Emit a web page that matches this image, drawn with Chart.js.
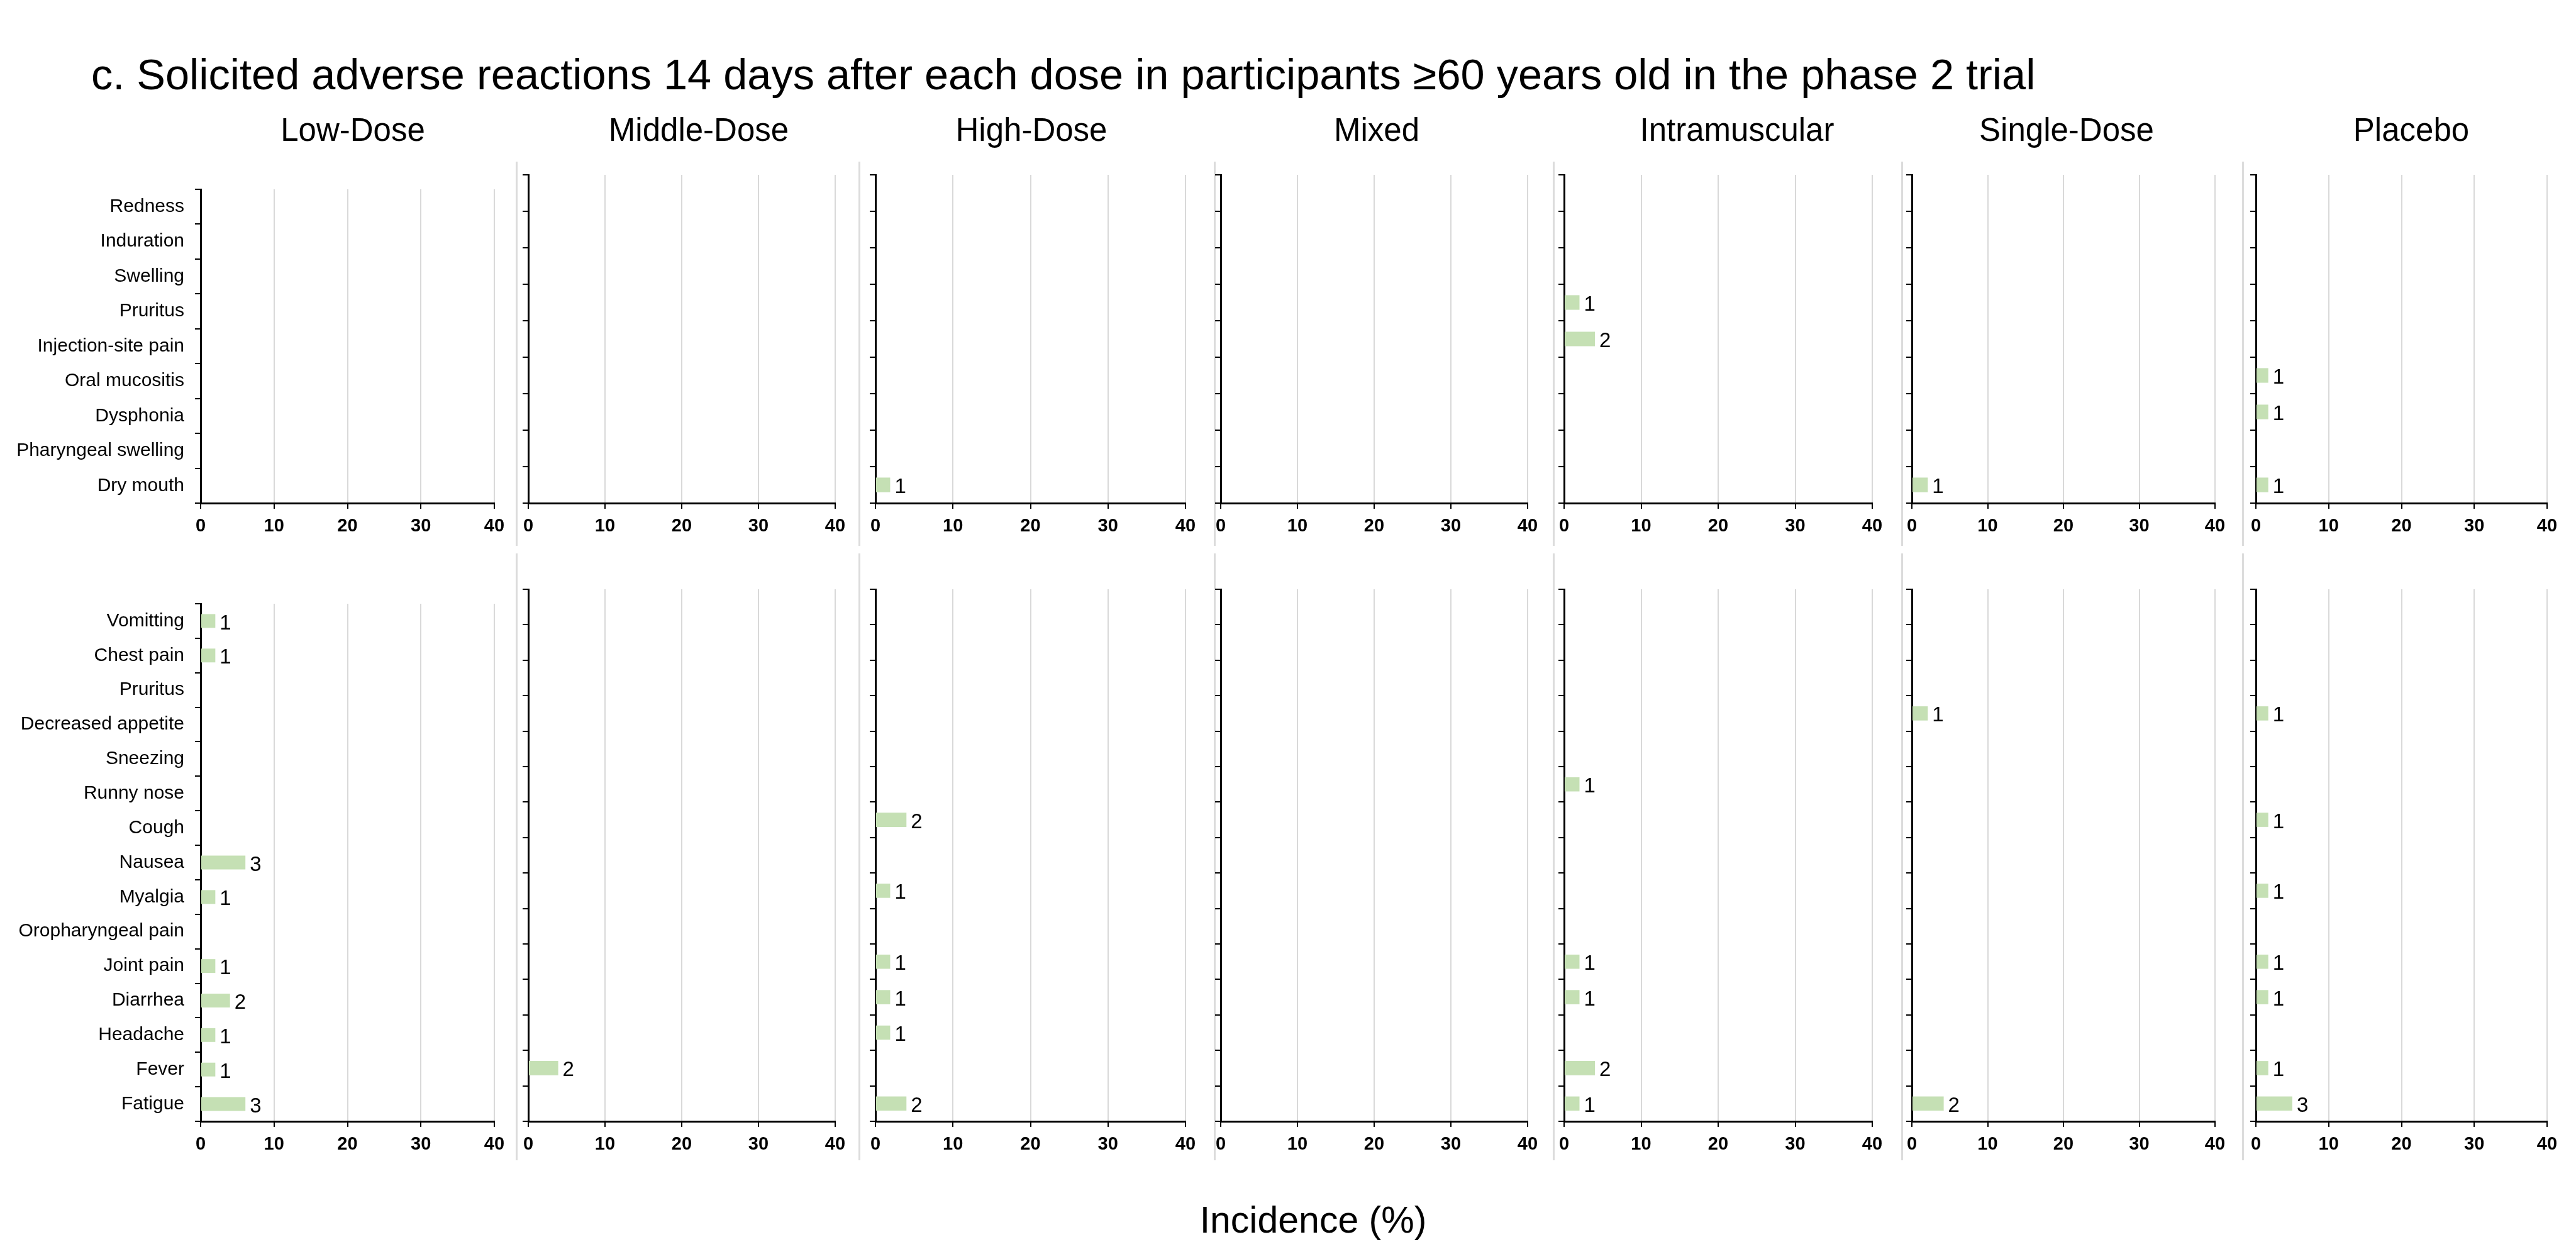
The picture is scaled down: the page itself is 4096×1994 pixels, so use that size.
<!DOCTYPE html>
<html>
<head>
<meta charset="utf-8">
<script src="https://cdn.jsdelivr.net/npm/chart.js@4.4.1/dist/chart.umd.min.js"></script>
<style>
    body { margin: 0; background: #fff; width: 4096px; height: 1994px; position: relative; overflow: hidden;
           font-family: "Liberation Sans", Arial, sans-serif; color: #000; }
    .texte { position: absolute; white-space: nowrap; transform: translate(-50%, -50%); }
    #titre { position: absolute; left: 145px; top: 118px; transform: translateY(-50%); font-size: 68.5px; white-space: nowrap; }
    .groupe { font-size: 51px; top: 206px; }
    #axeTitre { font-size: 59px; left: 2088px; top: 1940px; }
    .sep { position: absolute; width: 3px; background: #dcdcdc; }
    canvas { position: absolute; }
</style>
</head>
<body>
<div id="titre">c. Solicited adverse reactions 14 days after each dose in participants ≥60 years old in the phase 2 trial</div>
<div id="axeTitre" class="texte">Incidence (%)</div>
<script>
// Groupes et réactions
const groupes = ['Low-Dose', 'Middle-Dose', 'High-Dose', 'Mixed', 'Intramuscular', 'Single-Dose', 'Placebo'];
const reactionsHaut = ['Redness', 'Induration', 'Swelling', 'Pruritus', 'Injection-site pain',
    'Oral mucositis', 'Dysphonia', 'Pharyngeal swelling', 'Dry mouth'];
const reactionsBas = ['Vomitting', 'Chest pain', 'Pruritus', 'Decreased appetite', 'Sneezing', 'Runny nose',
    'Cough', 'Nausea', 'Myalgia', 'Oropharyngeal pain', 'Joint pain', 'Diarrhea', 'Headache', 'Fever', 'Fatigue'];
const ticksX = [0, 10, 20, 30, 40];

// Rang du haut : incidence (%)
const pctHautLow     = [];
const pctHautMiddle  = [];
const pctHautHigh    = [null, null, null, null, null, null, null, null, 1.9];
const pctHautMixed   = [];
const pctHautIM      = [null, null, null, 2.0, 4.0, null, null, null, null];
const pctHautSingle  = [null, null, null, null, null, null, null, null, 2.1];
const pctHautPlacebo = [null, null, null, null, null, 1.7, 1.7, null, 1.7];
// Rang du haut : nombre de cas
const nHautLow     = [];
const nHautMiddle  = [];
const nHautHigh    = [null, null, null, null, null, null, null, null, 1];
const nHautMixed   = [];
const nHautIM      = [null, null, null, 1, 2, null, null, null, null];
const nHautSingle  = [null, null, null, null, null, null, null, null, 1];
const nHautPlacebo = [null, null, null, null, null, 1, 1, null, 1];

// Rang du bas : incidence (%)
const pctBasLow     = [2.0, 2.0, null, null, null, null, null, 6.1, 2.0, null, 2.0, 4.0, 2.0, 2.0, 6.1];
const pctBasMiddle  = [null, null, null, null, null, null, null, null, null, null, null, null, null, 3.9, null];
const pctBasHigh    = [null, null, null, null, null, null, 4.0, null, 1.9, null, 1.9, 1.9, 1.9, null, 4.0];
const pctBasMixed   = [];
const pctBasIM      = [null, null, null, null, null, 2.0, null, null, null, null, 2.0, 2.0, null, 4.0, 2.0];
const pctBasSingle  = [null, null, null, 2.1, null, null, null, null, null, null, null, null, null, null, 4.2];
const pctBasPlacebo = [null, null, null, 1.7, null, null, 1.7, null, 1.7, null, 1.7, 1.7, null, 1.7, 5.0];
// Rang du bas : nombre de cas
const nBasLow     = [1, 1, null, null, null, null, null, 3, 1, null, 1, 2, 1, 1, 3];
const nBasMiddle  = [null, null, null, null, null, null, null, null, null, null, null, null, null, 2, null];
const nBasHigh    = [null, null, null, null, null, null, 2, null, 1, null, 1, 1, 1, null, 2];
const nBasMixed   = [];
const nBasIM      = [null, null, null, null, null, 1, null, null, null, null, 1, 1, null, 2, 1];
const nBasSingle  = [null, null, null, 1, null, null, null, null, null, null, null, null, null, null, 2];
const nBasPlacebo = [null, null, null, 1, null, null, 1, null, 1, null, 1, 1, null, 1, 3];

const pctHaut = [pctHautLow, pctHautMiddle, pctHautHigh, pctHautMixed, pctHautIM, pctHautSingle, pctHautPlacebo];
const nHaut   = [nHautLow, nHautMiddle, nHautHigh, nHautMixed, nHautIM, nHautSingle, nHautPlacebo];
const pctBas  = [pctBasLow, pctBasMiddle, pctBasHigh, pctBasMixed, pctBasIM, pctBasSingle, pctBasPlacebo];
const nBas    = [nBasLow, nBasMiddle, nBasHigh, nBasMixed, nBasIM, nBasSingle, nBasPlacebo];

// Mise en page (pixels)
const colX0  = [319, 840, 1392, 1941, 2487, 3040, 3587];
const colX40 = [786, 1328, 1885, 2429, 2977, 3522, 4050];
const titreX = [561, 1111, 1640, 2189, 2762, 3286, 3834];
const sepX   = [821, 1366, 1931, 2470, 3024, 3566];
const rangs  = [{ haut: 278, bas: 800, sepHaut: 257, sepBas: 868 },
                { haut: 937, bas: 1783, sepHaut: 880, sepBas: 1845 }];
const POLICE = '"Liberation Sans", Arial, sans-serif';
const VERT = '#c5e0b4';
const PAD_HAUT = 12, PAD_DROITE = 34, HAUT_X = 74;

// Titres des groupes et séparateurs
groupes.forEach((g, i) => {
    const d = document.createElement('div');
    d.className = 'texte groupe';
    d.style.left = titreX[i] + 'px';
    d.textContent = g;
    document.body.appendChild(d);
});
rangs.forEach(r => {
    sepX.forEach(x => {
        const s = document.createElement('div');
        s.className = 'sep';
        s.style.left = (x - 1) + 'px';
        s.style.top = r.sepHaut + 'px';
        s.style.height = (r.sepBas - r.sepHaut) + 'px';
        document.body.appendChild(s);
    });
});

function creerGraphique(col, rangIdx) {
    const r = rangs[rangIdx];
    const labels = rangIdx === 0 ? reactionsHaut : reactionsBas;
    const valeurs = (rangIdx === 0 ? pctHaut : pctBas)[col];
    const nombres = (rangIdx === 0 ? nHaut : nBas)[col];
    const largeurY = col === 0 ? colX0[0] : 30;

    const canvas = document.createElement('canvas');
    const w = largeurY + (colX40[col] - colX0[col]) + PAD_DROITE;
    const h = PAD_HAUT + (r.bas - r.haut) + HAUT_X;
    canvas.width = w; canvas.height = h;
    canvas.style.width = w + 'px'; canvas.style.height = h + 'px';
    canvas.style.left = (colX0[col] - largeurY) + 'px';
    canvas.style.top = (r.haut - PAD_HAUT) + 'px';
    document.body.appendChild(canvas);

    // étiquettes : nombre de cas au bout de la barre
    const etiquettes = {
        id: 'etiquettes',
        afterDatasetsDraw(chart) {
            const ctx = chart.ctx;
            const meta = chart.getDatasetMeta(0);
            ctx.save();
            ctx.font = '33px ' + POLICE;
            ctx.fillStyle = '#000';
            ctx.textBaseline = 'middle';
            meta.data.forEach((bar, i) => {
                if (nombres[i] == null) return;
                ctx.fillText(String(nombres[i]), bar.x + 7, bar.y + 4);
            });
            ctx.restore();
        }
    };

    new Chart(canvas, {
        type: 'bar',
        data: {
            labels: labels,
            datasets: [{
                data: valeurs,
                backgroundColor: VERT,
                borderWidth: 0,
                categoryPercentage: 1,
                barPercentage: 0.4
            }]
        },
        options: {
            indexAxis: 'y',
            responsive: false,
            animation: false,
            layout: { padding: { top: PAD_HAUT, right: PAD_DROITE, left: 0, bottom: 0 } },
            plugins: { legend: { display: false }, tooltip: { enabled: false } },
            scales: {
                x: {
                    type: 'linear',
                    min: 0,
                    max: 40,
                    afterBuildTicks: s => { s.ticks = ticksX.map(v => ({ value: v })); },
                    afterFit: s => { s.height = HAUT_X; },
                    grid: { color: '#d9d9d9', lineWidth: 2, tickColor: '#000', tickWidth: 2, tickLength: 9 },
                    border: { color: '#000', width: 3 },
                    ticks: { color: '#000', padding: 11, font: { family: POLICE, size: 29, weight: 'bold' } }
                },
                y: {
                    type: 'category',
                    afterFit: s => { s.width = largeurY; },
                    grid: { offset: true, drawOnChartArea: false, color: '#000', lineWidth: 2, tickLength: 9 },
                    border: { color: '#000', width: 3 },
                    ticks: { display: col === 0, color: '#000', padding: 17, font: { family: POLICE, size: 30 } }
                }
            }
        },
        plugins: [etiquettes]
    });
}

for (let rg = 0; rg < 2; rg++) {
    for (let c = 0; c < groupes.length; c++) creerGraphique(c, rg);
}
</script>
</body>
</html>
